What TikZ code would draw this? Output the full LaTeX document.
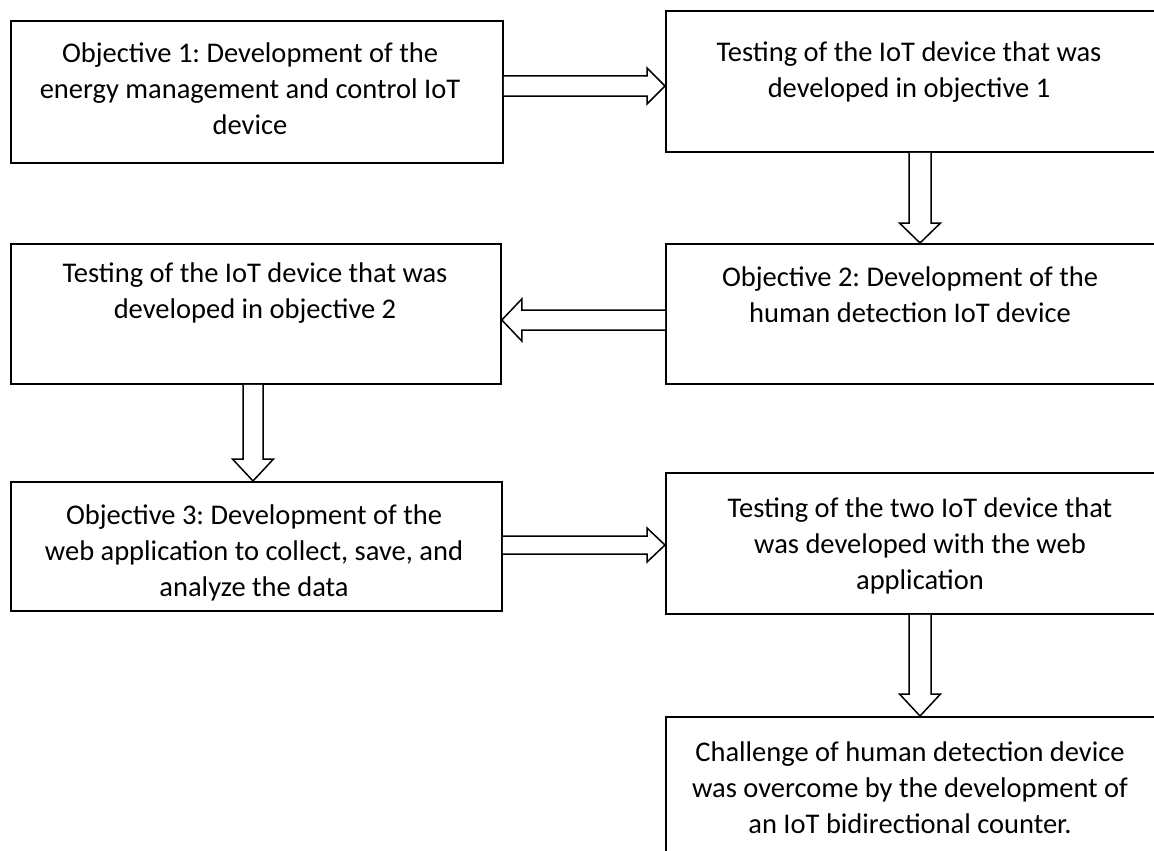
\documentclass[tikz,border=0pt]{standalone}
\usepackage{fontspec}
\setmainfont{Carlito}
\frenchspacing
\usetikzlibrary{calc}
\tikzset{
  box/.style={draw=black, line width=1.8pt, inner sep=0pt, anchor=north west},
  txt/.style={align=center, inner sep=0pt, font=\fontsize{28.5}{36}\selectfont, text=black},
  barrow/.style={draw=black, line width=1.5pt, line join=miter, fill=white},
}
\begin{document}
\begin{tikzpicture}[x=1pt,y=-1pt]
\useasboundingbox (0,0) rectangle (1154,851);
\clip (0,0) rectangle (1154,851);
\fill[white] (0,0) rectangle (1154,851);
% boxes
\node[box, minimum width=492pt, minimum height=142pt] (b1) at (10,20) {};
\node[box, minimum width=500pt, minimum height=141pt] (b2) at (665,10) {};
\node[box, minimum width=500pt, minimum height=140pt] (b3) at (665,243) {};
\node[box, minimum width=490pt, minimum height=140pt] (b4) at (10,243) {};
\node[box, minimum width=491pt, minimum height=129pt] (b5) at (10,481) {};
\node[box, minimum width=500pt, minimum height=141pt] (b6) at (665,472) {};
\node[box, minimum width=500pt, minimum height=160pt] (b7) at (665,716) {};
% texts
\node[txt] (t1) at (250,88.5) {Objective 1: Development of the\\energy management and control IoT\\device};
\node[txt] (t2) at (909,72.5) {Testing of the IoT device that was\\developed in objective 1};
\node[txt] (t3) at (910,295) {Objective 2: Development of the\\human detection IoT device};
\node[txt] (t4) at (255,293.5) {Testing of the IoT device that was\\developed in objective 2};
\node[txt] (t5) at (254,552.5) {Objective 3: Development of the\\web application to collect, save, and\\analyze the data};
\node[txt] (t6) at (920,546) {Testing of the two IoT device that\\was developed with the web\\application};
\node[txt] (t7) at (910,788) {Challenge of human detection device\\was overcome by the development of\\an IoT bidirectional counter.};
% arrow end points
\coordinate (a1s) at ($(b1.north east)+(0,66)$);
\coordinate (a1e) at (b2.west |- a1s);
\coordinate (a2s) at ($(b2.south west)+(255,0)$);
\coordinate (a2e) at (a2s |- b3.north);
\coordinate (a3s) at ($(b3.north west)+(0,77)$);
\coordinate (a3e) at (b4.east |- a3s);
\coordinate (a4s) at ($(b4.south west)+(243,0)$);
\coordinate (a4e) at (a4s |- b5.north);
\coordinate (a5s) at ($(b5.north east)+(0,64)$);
\coordinate (a5e) at (b6.west |- a5s);
\coordinate (a6s) at ($(b6.south west)+(255,0)$);
\coordinate (a6e) at (a6s |- b7.north);
% right arrows
\draw[barrow] ($(a1s)+(0,-10)$) -- ($(a1e)+(-18,-10)$) -- ($(a1e)+(-18,-18)$) -- (a1e) -- ($(a1e)+(-18,18)$) -- ($(a1e)+(-18,10)$) -- ($(a1s)+(0,10)$);
\draw[barrow] ($(a5s)+(0,-9)$) -- ($(a5e)+(-18,-9)$) -- ($(a5e)+(-18,-17)$) -- (a5e) -- ($(a5e)+(-18,17)$) -- ($(a5e)+(-18,9)$) -- ($(a5s)+(0,9)$);
% left arrow
\draw[barrow] ($(a3s)+(0,-10)$) -- ($(a3e)+(20,-10)$) -- ($(a3e)+(20,-21)$) -- (a3e) -- ($(a3e)+(20,21)$) -- ($(a3e)+(20,10)$) -- ($(a3s)+(0,10)$);
% down arrows
\draw[barrow] ($(a2s)+(-11,0)$) -- ($(a2e)+(-11,-20)$) -- ($(a2e)+(-20.5,-20)$) -- (a2e) -- ($(a2e)+(20.5,-20)$) -- ($(a2e)+(11,-20)$) -- ($(a2s)+(11,0)$);
\draw[barrow] ($(a4s)+(-10,0)$) -- ($(a4e)+(-10,-22)$) -- ($(a4e)+(-20.5,-22)$) -- (a4e) -- ($(a4e)+(20.5,-22)$) -- ($(a4e)+(10,-22)$) -- ($(a4s)+(10,0)$);
\draw[barrow] ($(a6s)+(-11,0)$) -- ($(a6e)+(-11,-22)$) -- ($(a6e)+(-20.5,-22)$) -- (a6e) -- ($(a6e)+(20.5,-22)$) -- ($(a6e)+(11,-22)$) -- ($(a6s)+(11,0)$);
\end{tikzpicture}
\end{document}
